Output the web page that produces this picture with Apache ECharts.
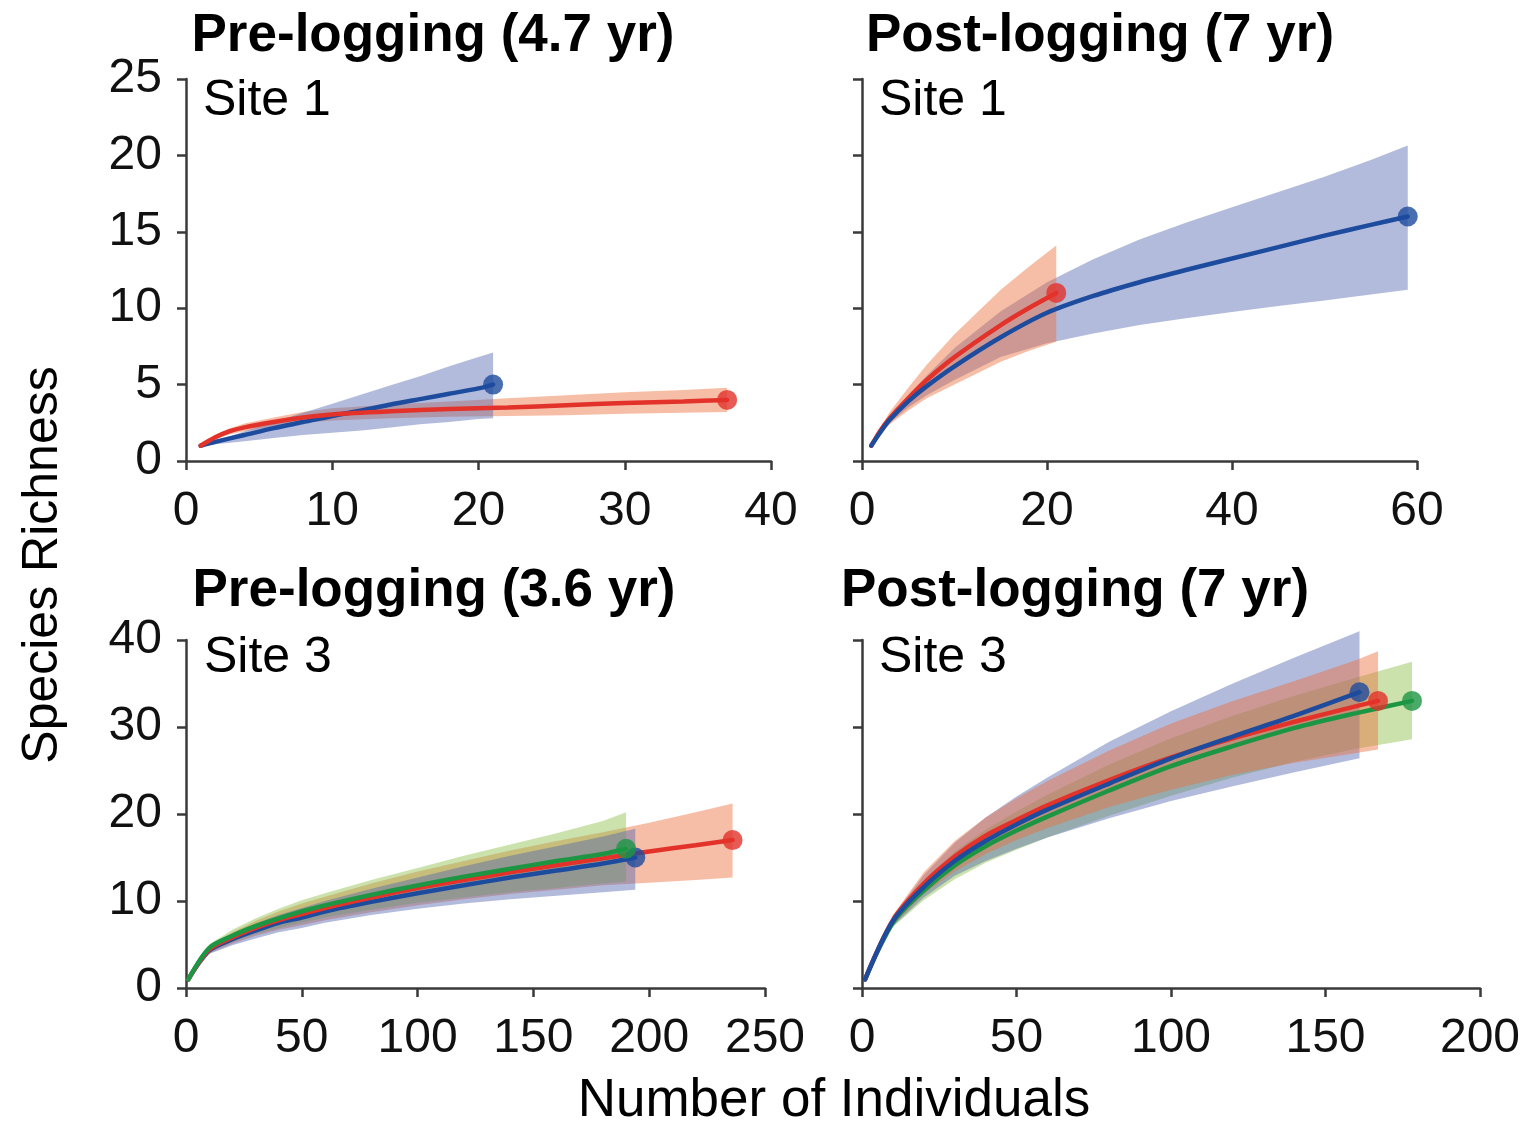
<!DOCTYPE html>
<html>
<head>
<meta charset="utf-8">
<script src="https://cdn.jsdelivr.net/npm/echarts@6/dist/echarts.min.js"></script>
<style>
  html, body { margin: 0; padding: 0; background: #ffffff; }
  #chart { width: 1533px; height: 1125px; }
</style>
</head>
<body>
<div id="chart"></div>
<script>
// ---------- Rarefaction curves: number of individuals vs. species richness ----------

// Pre-logging (4.7 yr), Site 1
const preS1BlueX    = [1, 2, 4, 6, 8, 10, 12, 14, 16, 18, 20, 21];
const preS1BlueMean = [1.0, 1.25, 1.7, 2.15, 2.55, 2.95, 3.3, 3.7, 4.05, 4.4, 4.75, 5.0];
const preS1BlueLo   = [1.0, 1.1, 1.3, 1.5, 1.7, 1.85, 2.0, 2.2, 2.4, 2.55, 2.75, 2.8];
const preS1BlueHi   = [1.0, 1.3, 1.95, 2.55, 3.15, 3.75, 4.35, 4.95, 5.55, 6.2, 6.8, 7.1];
const preS1RedX     = [1, 2, 3, 4, 6, 8, 10, 14, 18, 22, 26, 30, 34, 37];
const preS1RedMean  = [1.0, 1.55, 1.95, 2.2, 2.55, 2.85, 3.05, 3.25, 3.4, 3.5, 3.65, 3.8, 3.9, 4.0];
const preS1RedLo    = [1.0, 1.4, 1.75, 1.95, 2.25, 2.5, 2.65, 2.8, 2.9, 2.95, 3.0, 3.1, 3.15, 3.2];
const preS1RedHi    = [1.0, 1.7, 2.15, 2.45, 2.85, 3.2, 3.45, 3.7, 3.9, 4.1, 4.3, 4.5, 4.65, 4.8];

// Post-logging (7 yr), Site 1
const postS1BlueX    = [1, 2, 3, 5, 7, 10, 15, 20, 25, 30, 35, 40, 45, 50, 55, 59];
const postS1BlueMean = [1.0, 1.9, 2.7, 3.9, 4.9, 6.2, 8.1, 9.7, 10.8, 11.7, 12.5, 13.25, 14.0, 14.75, 15.45, 16.0];
const postS1BlueLo   = [1.0, 1.8, 2.5, 3.5, 4.3, 5.3, 6.8, 7.7, 8.35, 8.9, 9.35, 9.75, 10.15, 10.5, 10.9, 11.2];
const postS1BlueHi   = [1.0, 2.0, 2.9, 4.3, 5.6, 7.4, 9.8, 11.7, 13.2, 14.5, 15.6, 16.6, 17.6, 18.6, 19.7, 20.65];
const postS1RedX     = [1, 2, 3, 5, 7, 10, 15, 18, 21];
const postS1RedMean  = [1.0, 2.0, 2.8, 4.1, 5.3, 6.8, 8.9, 10.0, 11.0];
const postS1RedLo    = [1.0, 1.8, 2.4, 3.3, 4.1, 5.0, 6.5, 7.2, 7.8];
const postS1RedHi    = [1.0, 2.2, 3.2, 4.8, 6.3, 8.3, 11.2, 12.7, 14.1];

// Pre-logging (3.6 yr), Site 3
const preS3BlueX     = [1, 10, 20, 30, 40, 50, 60, 80, 100, 120, 140, 160, 180, 194];
const preS3BlueMean  = [1.0, 4.3, 5.6, 6.6, 7.5, 8.1, 8.8, 9.9, 10.9, 11.8, 12.7, 13.5, 14.3, 15.0];
const preS3BlueLo    = [1.0, 3.9, 4.9, 5.7, 6.4, 6.9, 7.5, 8.4, 9.1, 9.7, 10.2, 10.6, 11.0, 11.3];
const preS3BlueHi    = [1.0, 4.7, 6.2, 7.4, 8.4, 9.2, 10.0, 11.4, 12.7, 14.0, 15.2, 16.3, 17.4, 18.3];
const preS3RedX      = [1, 10, 20, 30, 40, 50, 60, 80, 100, 120, 140, 160, 180, 200, 220, 236];
const preS3RedMean   = [1.0, 4.4, 5.8, 6.9, 7.8, 8.5, 9.2, 10.4, 11.5, 12.4, 13.3, 14.1, 14.9, 15.7, 16.4, 17.0];
const preS3RedLo     = [1.0, 4.0, 5.1, 6.0, 6.7, 7.2, 7.8, 8.7, 9.5, 10.2, 10.8, 11.3, 11.8, 12.1, 12.4, 12.7];
const preS3RedHi     = [1.0, 4.8, 6.4, 7.7, 8.8, 9.7, 10.5, 12.0, 13.4, 14.6, 15.8, 16.9, 17.9, 19.0, 20.2, 21.2];
const preS3GreenX    = [1, 10, 20, 30, 40, 50, 60, 80, 100, 120, 140, 160, 180, 190];
const preS3GreenMean = [1.0, 4.6, 6.0, 7.1, 8.0, 8.8, 9.5, 10.7, 11.8, 12.8, 13.7, 14.6, 15.4, 16.0];
const preS3GreenLo   = [1.0, 4.2, 5.3, 6.2, 6.9, 7.5, 8.1, 9.0, 9.8, 10.4, 11.0, 11.5, 12.0, 12.2];
const preS3GreenHi   = [1.0, 5.0, 6.7, 8.0, 9.1, 10.1, 10.9, 12.4, 13.8, 15.2, 16.5, 17.8, 19.2, 20.2];

// Post-logging (7 yr), Site 3
const postS3BlueX     = [1, 10, 20, 30, 40, 50, 60, 80, 100, 120, 140, 161];
const postS3BlueMean  = [1.0, 7.7, 11.6, 14.6, 16.9, 18.8, 20.5, 23.5, 26.4, 28.9, 31.3, 34.0];
const postS3BlueLo    = [1.0, 7.1, 10.4, 12.9, 14.6, 16.0, 17.3, 19.5, 21.5, 23.2, 24.8, 26.4];
const postS3BlueHi    = [1.0, 8.3, 13.0, 16.7, 19.6, 22.0, 24.2, 28.3, 31.8, 35.0, 38.0, 41.0];
const postS3RedX      = [1, 10, 20, 30, 40, 50, 60, 80, 100, 120, 140, 160, 167];
const postS3RedMean   = [1.0, 7.8, 12.0, 15.1, 17.5, 19.3, 21.0, 23.9, 26.5, 28.7, 30.6, 32.4, 33.0];
const postS3RedLo     = [1.0, 7.2, 10.8, 13.4, 15.4, 17.0, 18.4, 20.8, 22.8, 24.5, 25.9, 27.0, 27.4];
const postS3RedHi     = [1.0, 8.4, 13.3, 16.9, 19.6, 21.8, 23.8, 27.3, 30.4, 33.0, 35.3, 37.7, 38.7];
const postS3GreenX    = [1, 10, 20, 30, 40, 50, 60, 80, 100, 120, 140, 160, 178];
const postS3GreenMean = [1.0, 7.5, 11.2, 14.1, 16.3, 18.1, 19.7, 22.7, 25.5, 27.8, 29.9, 31.6, 33.0];
const postS3GreenLo   = [1.0, 7.0, 10.1, 12.5, 14.4, 15.9, 17.3, 19.8, 22.1, 24.2, 26.0, 27.5, 28.6];
const postS3GreenHi   = [1.0, 8.0, 12.3, 15.7, 18.2, 20.3, 22.2, 25.7, 28.7, 31.3, 33.6, 35.7, 37.5];

// Panel headings and axis ranges
const panelTitles = ['Pre-logging (4.7 yr)', 'Post-logging (7 yr)', 'Pre-logging (3.6 yr)', 'Post-logging (7 yr)'];
const siteLabels  = ['Site 1', 'Site 1', 'Site 3', 'Site 3'];
const xMax        = [40, 60, 250, 200];
const xStep       = [10, 20, 50, 50];
const yMax        = [25, 25, 40, 40];
const yStep       = [5, 5, 10, 10];

// ---------- styling ----------
const FONT = '"Liberation Sans", Arial, Helvetica, sans-serif';
const AXIS_COLOR = '#3a3a3a';
const INK = '#111111';

const COLORS = {
  blue:  { line: '#1d4b9e', band: 'rgba(85, 105, 175, 0.45)' },
  red:   { line: '#e2322a', band: 'rgba(238, 110, 60, 0.45)' },
  green: { line: '#1d9644', band: 'rgba(140, 190, 70, 0.45)' }
};

const grids = [
  { left: 186, top: 79,  width: 585, height: 382 },
  { left: 862, top: 79,  width: 555, height: 382 },
  { left: 186, top: 640, width: 579, height: 348 },
  { left: 862, top: 640, width: 618, height: 348 }
];

function pairs(xs, ys) {
  return xs.map((x, i) => [x, ys[i]]);
}

// Confidence band: one filled polygon, upper edge left to right, lower edge back
function band(gridIndex, xs, lo, hi, color) {
  return {
    type: 'custom', xAxisIndex: gridIndex, yAxisIndex: gridIndex,
    data: xs.map((x, i) => [x, lo[i], hi[i]]),
    encode: { x: 0, y: [1, 2] },
    silent: true, clip: false, z: 1,
    renderItem: function (params, api) {
      if (params.dataIndex !== 0) return null;
      const pts = [];
      for (let i = 0; i < xs.length; i++) pts.push(api.coord([xs[i], hi[i]]));
      for (let i = xs.length - 1; i >= 0; i--) pts.push(api.coord([xs[i], lo[i]]));
      return {
        type: 'polygon',
        shape: { points: pts },
        style: { fill: color, stroke: 'none' }
      };
    }
  };
}

// Mean rarefaction curve with the observed richness marked at its end
function curve(gridIndex, xs, mean, color) {
  const last = xs.length - 1;
  return [
    {
      type: 'line', xAxisIndex: gridIndex, yAxisIndex: gridIndex,
      data: pairs(xs, mean), smooth: 0.3,
      symbol: 'none', clip: false, z: 3,
      lineStyle: { color: color, width: 4.5, cap: 'round' }
    },
    {
      type: 'scatter', xAxisIndex: gridIndex, yAxisIndex: gridIndex,
      data: [[xs[last], mean[last]]],
      symbolSize: 20, clip: false, z: 4,
      itemStyle: { color: color }
    }
  ];
}

const series = [].concat(
  // Pre-logging, Site 1
  band(0, preS1RedX,  preS1RedLo,  preS1RedHi,  COLORS.red.band),
  band(0, preS1BlueX, preS1BlueLo, preS1BlueHi, COLORS.blue.band),
  curve(0, preS1BlueX, preS1BlueMean, COLORS.blue.line),
  curve(0, preS1RedX,  preS1RedMean,  COLORS.red.line),

  // Post-logging, Site 1
  band(1, postS1BlueX, postS1BlueLo, postS1BlueHi, COLORS.blue.band),
  band(1, postS1RedX,  postS1RedLo,  postS1RedHi,  COLORS.red.band),
  curve(1, postS1RedX,  postS1RedMean,  COLORS.red.line),
  curve(1, postS1BlueX, postS1BlueMean, COLORS.blue.line),

  // Pre-logging, Site 3
  band(2, preS3RedX,   preS3RedLo,   preS3RedHi,   COLORS.red.band),
  band(2, preS3GreenX, preS3GreenLo, preS3GreenHi, COLORS.green.band),
  band(2, preS3BlueX,  preS3BlueLo,  preS3BlueHi,  COLORS.blue.band),
  curve(2, preS3BlueX,  preS3BlueMean,  COLORS.blue.line),
  curve(2, preS3RedX,   preS3RedMean,   COLORS.red.line),
  curve(2, preS3GreenX, preS3GreenMean, COLORS.green.line),

  // Post-logging, Site 3
  band(3, postS3GreenX, postS3GreenLo, postS3GreenHi, COLORS.green.band),
  band(3, postS3BlueX,  postS3BlueLo,  postS3BlueHi,  COLORS.blue.band),
  band(3, postS3RedX,   postS3RedLo,   postS3RedHi,   COLORS.red.band),
  curve(3, postS3GreenX, postS3GreenMean, COLORS.green.line),
  curve(3, postS3RedX,   postS3RedMean,   COLORS.red.line),
  curve(3, postS3BlueX,  postS3BlueMean,  COLORS.blue.line)
);

const axisLine = { show: true, onZero: false, lineStyle: { color: AXIS_COLOR, width: 2.5 } };
const axisTick = { show: true, inside: false, length: 9, lineStyle: { color: AXIS_COLOR, width: 2.5 } };

const xAxis = grids.map((g, i) => ({
  type: 'value', gridIndex: i, min: 0, max: xMax[i], interval: xStep[i],
  axisLine, axisTick,
  splitLine: { show: false },
  axisLabel: {
    show: true, showMinLabel: true, showMaxLabel: true,
    fontSize: 48, fontFamily: FONT, color: INK, margin: 27
  }
}));

const yAxis = grids.map((g, i) => ({
  type: 'value', gridIndex: i, min: 0, max: yMax[i], interval: yStep[i],
  axisLine, axisTick,
  splitLine: { show: false },
  axisLabel: {
    show: i === 0 || i === 2, showMinLabel: true, showMaxLabel: true,
    fontSize: 48, fontFamily: FONT, color: INK, margin: 24
  }
}));

function label(text, x, y, font, align, extra) {
  return Object.assign({
    type: 'text', x: x, y: y, silent: true,
    style: {
      text: text, font: font, fill: '#000000',
      align: align, textAlign: align,
      verticalAlign: 'middle', textVerticalAlign: 'middle'
    }
  }, extra || {});
}

const TITLE_FONT = 'bold 53px ' + FONT;
const SITE_FONT = '50px ' + FONT;
const NAME_FONT = '53px ' + FONT;
const YNAME_FONT = '50px ' + FONT;

const graphic = [
  label(panelTitles[0], 433, 36, TITLE_FONT, 'center'),
  label(panelTitles[1], 1100, 36, TITLE_FONT, 'center'),
  label(panelTitles[2], 434, 591, TITLE_FONT, 'center'),
  label(panelTitles[3], 1075, 591, TITLE_FONT, 'center'),
  label(siteLabels[0], 203, 101, SITE_FONT, 'left'),
  label(siteLabels[1], 879, 101, SITE_FONT, 'left'),
  label(siteLabels[2], 204, 658, SITE_FONT, 'left'),
  label(siteLabels[3], 879, 658, SITE_FONT, 'left'),
  label('Number of Individuals', 834, 1101, NAME_FONT, 'center'),
  label('Species Richness', 43, 565, YNAME_FONT, 'center', { rotation: Math.PI / 2 })
];

const chart = echarts.init(document.getElementById('chart'), null, { renderer: 'canvas' });
chart.setOption({
  backgroundColor: '#ffffff',
  animation: false,
  grid: grids.map(g => Object.assign({ containLabel: false }, g)),
  xAxis: xAxis,
  yAxis: yAxis,
  series: series,
  graphic: graphic
});
</script>
</body>
</html>
